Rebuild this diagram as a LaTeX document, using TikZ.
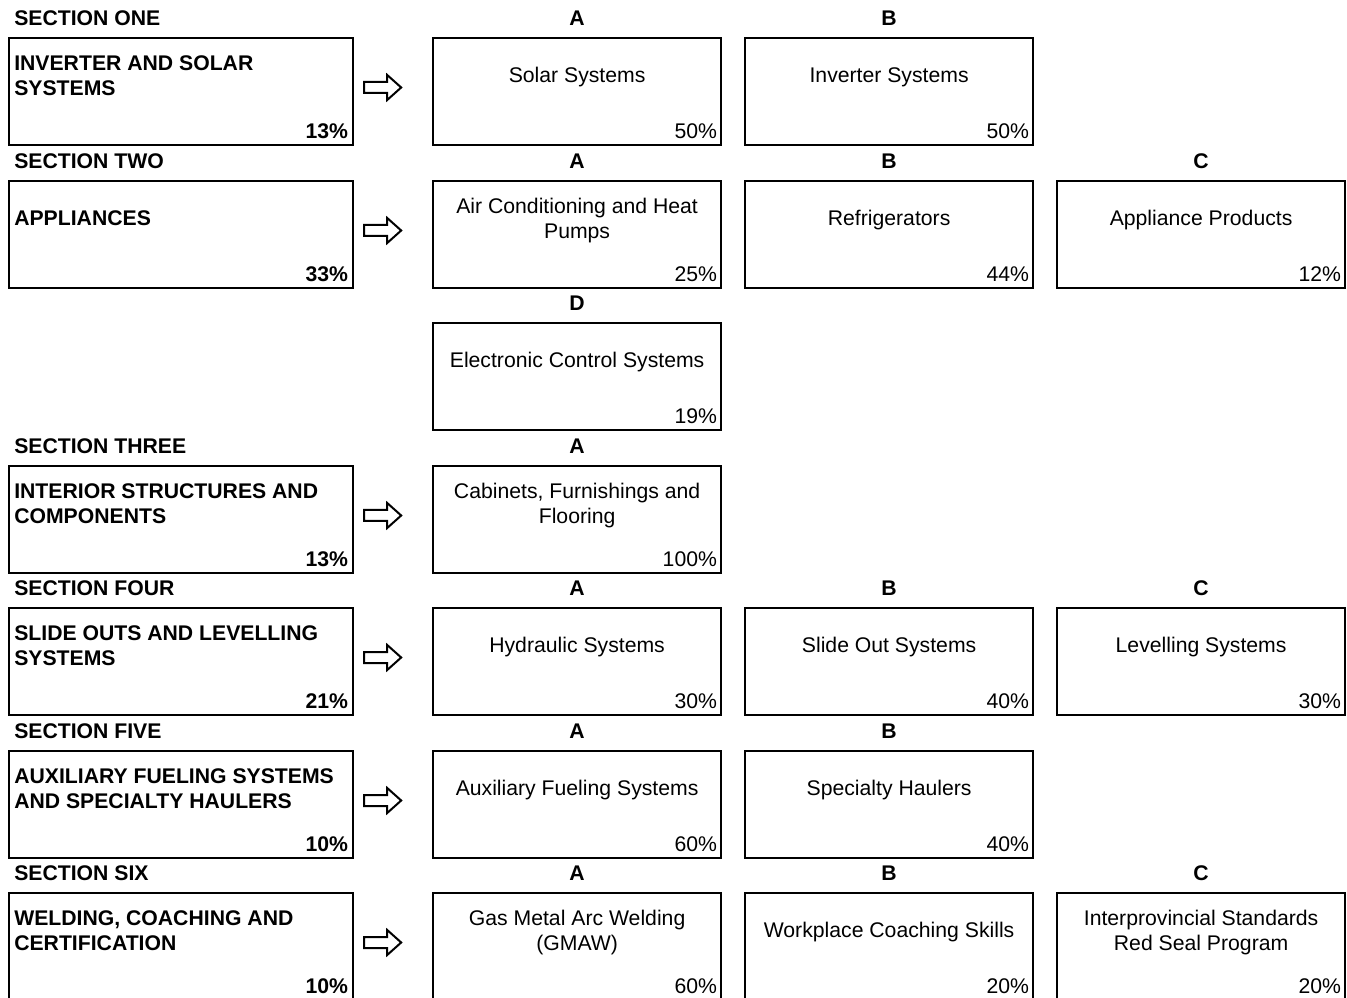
\documentclass[tikz,border=0pt]{standalone}
\usepackage{fontspec}
\setmainfont{Liberation Sans}
\usetikzlibrary{calc}
\tikzset{
  box/.style={draw, line width=1.65pt, minimum height=80.25pt, inner sep=0pt},
  subbox/.style={box, minimum width=216pt},
  secbox/.style={box, minimum width=258pt},
  hdr/.style={font=\fontsize{15.9}{18.75}\selectfont\bfseries, inner sep=0pt},
  txt/.style={font=\fontsize{15.9}{18.75}\selectfont, align=center, inner sep=0pt},
  stxt/.style={font=\fontsize{15.9}{18.75}\selectfont\bfseries, align=left, inner sep=0pt, anchor=west},
  pct/.style={font=\fontsize{15.9}{18.75}\selectfont, inner sep=0pt, anchor=east},
  spct/.style={pct, font=\fontsize{15.9}{18.75}\selectfont\bfseries},
  arrowsty/.style={draw, line width=1.5pt, fill=white, line join=miter},
}
\newcommand\subbx[6]{%
  \node[subbox, anchor=north west] (#1) at (#2,#3) {};
  \node[hdr] (#1l) at ($(#1.north)+(0,-19)$) {#4};
  \node[txt] (#1t) at ($(#1.north)+(0,40.5)$) {#5};
  \node[pct] (#1p) at ($(#1.south east)+(-5,-15)$) {#6};
}
\newcommand\secbx[5]{%
  \node[secbox, anchor=north west] (#1) at (8,#2) {};
  \node[hdr, anchor=west] (#1l) at ($(#1.north west)+(6,-19)$) {#3};
  \node[stxt] (#1t) at ($(#1.north west)+(6,38.5)$) {#4};
  \node[spct] (#1p) at ($(#1.south east)+(-6,-15)$) {#5};
  \draw[arrowsty] ($(#1.north east)+(10,45)$) -- ++(23,0) -- ++(0,-7) -- ++(14,12.5) -- ++(-14,12.5) -- ++(0,-7) -- ++(-23,0) -- cycle;
}
\begin{document}
\begin{tikzpicture}[x=0.75pt,y=-0.75pt]
\clip (0,0) rectangle (1347,998);
\fill[white] (0,0) rectangle (1347,998);
% Section one
\secbx{s1}{37}{SECTION ONE}{INVERTER AND SOLAR\\SYSTEMS}{13\%}
\subbx{s1a}{432}{37}{A}{Solar Systems}{50\%}
\subbx{s1b}{744}{37}{B}{Inverter Systems}{50\%}
% Section two
\secbx{s2}{180}{SECTION TWO}{APPLIANCES}{33\%}
\subbx{s2a}{432}{180}{A}{Air Conditioning and Heat\\Pumps}{25\%}
\subbx{s2b}{744}{180}{B}{Refrigerators}{44\%}
\subbx{s2c}{1056}{180}{C}{Appliance Products}{12\%}
\subbx{s2d}{432}{322}{D}{Electronic Control Systems}{19\%}
% Section three
\secbx{s3}{465}{SECTION THREE}{INTERIOR STRUCTURES AND\\COMPONENTS}{13\%}
\subbx{s3a}{432}{465}{A}{Cabinets, Furnishings and\\Flooring}{100\%}
% Section four
\secbx{s4}{607}{SECTION FOUR}{SLIDE OUTS AND LEVELLING\\SYSTEMS}{21\%}
\subbx{s4a}{432}{607}{A}{Hydraulic Systems}{30\%}
\subbx{s4b}{744}{607}{B}{Slide Out Systems}{40\%}
\subbx{s4c}{1056}{607}{C}{Levelling Systems}{30\%}
% Section five
\secbx{s5}{750}{SECTION FIVE}{AUXILIARY FUELING SYSTEMS\\AND SPECIALTY HAULERS}{10\%}
\subbx{s5a}{432}{750}{A}{Auxiliary Fueling Systems}{60\%}
\subbx{s5b}{744}{750}{B}{Specialty Haulers}{40\%}
% Section six
\secbx{s6}{892}{SECTION SIX}{WELDING, COACHING AND\\CERTIFICATION}{10\%}
\subbx{s6a}{432}{892}{A}{Gas Metal Arc Welding\\(GMAW)}{60\%}
\subbx{s6b}{744}{892}{B}{Workplace Coaching Skills}{20\%}
\subbx{s6c}{1056}{892}{C}{Interprovincial Standards\\Red Seal Program}{20\%}
\end{tikzpicture}
\end{document}
